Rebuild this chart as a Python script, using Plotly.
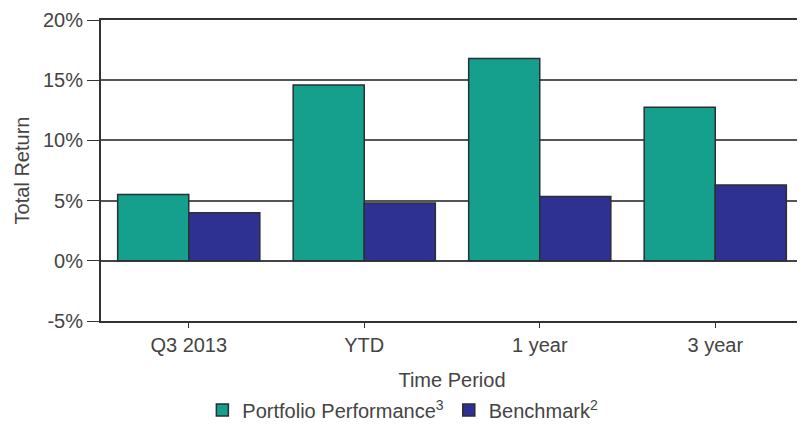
import plotly.graph_objects as go

categories = ["Q3 2013", "YTD", "1 year", "3 year"]
portfolio = [5.5, 14.6, 16.8, 12.75]
benchmark = [4.0, 4.8, 5.35, 6.3]
y_ticks = [-5, 0, 5, 10, 15, 20]
y_tick_labels = ["-5%", "0%", "5%", "10%", "15%", "20%"]

font = "Liberation Sans, Arial, sans-serif"
fig = go.Figure()
fig.add_trace(go.Bar(x=categories, y=portfolio, name="Portfolio Performance<sup>3</sup>",
                     marker=dict(color="#14a08c", line=dict(color="#2a2f33", width=1.5))))
fig.add_trace(go.Bar(x=categories, y=benchmark, name="Benchmark<sup>2</sup>",
                     marker=dict(color="#2e3192", line=dict(color="#2a2f33", width=1.5))))

fig.update_layout(
    width=805, height=426,
    margin=dict(l=93, r=10, t=12, b=113, autoexpand=False),
    paper_bgcolor="white", plot_bgcolor="white",
    barmode="group", bargap=0.19, bargroupgap=0,
    font=dict(family=font, size=20, color="#444"),
    showlegend=True,
    legend=dict(orientation="h", x=0.43, xanchor="center", y=-0.296, yanchor="middle",
                font=dict(size=20, color="#444"), itemwidth=30, traceorder="normal"),
    xaxis=dict(showline=True, linecolor="#333", linewidth=2, mirror=True,
               ticks="outside", ticklen=5, tickcolor="#333", automargin=False,
               title=dict(text="Time Period", standoff=18, font=dict(size=20)),
               tickfont=dict(size=20)),
    yaxis=dict(range=[-5, 20], tickvals=y_ticks, ticktext=y_tick_labels,
               showline=True, linecolor="#333", linewidth=2, mirror=True,
               showgrid=True, gridcolor="#555", gridwidth=1.5, automargin=False,
               ticks="outside", ticklen=12, tickcolor="#333",
               zeroline=True, zerolinecolor="#444", zerolinewidth=1.5,
               title=dict(text="Total Return", standoff=8, font=dict(size=20)),
               tickfont=dict(size=20)),
)
fig.write_html("out.html")
